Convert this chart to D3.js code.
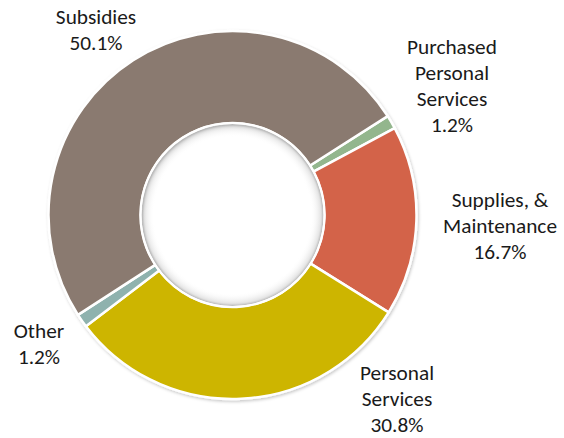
<!DOCTYPE html>
<html>
<head>
<meta charset="utf-8">
<script src="https://cdn.jsdelivr.net/npm/d3@7"></script>
<style>
  body { margin: 0; background: #fff; }
  svg text { font-family: Carlito, Lato, "Open Sans", sans-serif; font-size: 21.3px; fill: #1a1a1a; }
</style>
</head>
<body>
<svg width="564" height="438"></svg>
<script>
// slices, clockwise from the small green one at upper right
var categories = ["Purchased Personal Services", "Supplies, & Maintenance", "Personal Services", "Other", "Subsidies"];
var values = [1.2, 16.7, 30.8, 1.2, 50.1];
var colors = ["#93b68d", "#d3644a", "#cdb500", "#8fb2ae", "#8a7a6f"];
var labelLines = [
  ["Purchased", "Personal", "Services", "1.2%"],
  ["Supplies, &", "Maintenance", "16.7%"],
  ["Personal", "Services", "30.8%"],
  ["Other", "1.2%"],
  ["Subsidies", "50.1%"]
];
// label anchor (centre x, first baseline)
var labelPos = [[452, 54], [500, 207], [397, 380], [39, 338], [96, 24]];

var cx = 232.5, cy = 215, outerR = 184, innerR = 92;
var startDeg = 57.5;

var svg = d3.select("svg");

var defs = svg.append("defs");
var shadow = defs.append("filter").attr("id", "shadow")
  .attr("x", "-10%").attr("y", "-10%").attr("width", "120%").attr("height", "120%");
shadow.append("feDropShadow").attr("dx", 1).attr("dy", 1.5).attr("stdDeviation", 1.5)
  .attr("flood-color", "#000").attr("flood-opacity", 0.22);

var hole = defs.append("radialGradient").attr("id", "hole");
hole.append("stop").attr("offset", "0.86").attr("stop-color", "#fff").attr("stop-opacity", 0);
hole.append("stop").attr("offset", "0.97").attr("stop-color", "#c4c4c4").attr("stop-opacity", 0.45);
hole.append("stop").attr("offset", "1").attr("stop-color", "#999").attr("stop-opacity", 0.7);

var pie = d3.pie().sort(null).value(function(d) { return d; })
  .startAngle(startDeg * Math.PI / 180)
  .endAngle(startDeg * Math.PI / 180 + 2 * Math.PI);

var arc = d3.arc().innerRadius(innerR).outerRadius(outerR);

var g = svg.append("g").attr("transform", "translate(" + cx + "," + cy + ")");

g.append("g").attr("filter", "url(#shadow)")
  .selectAll("path")
  .data(pie(values))
  .enter().append("path")
  .attr("d", arc)
  .style("fill", function(d, i) { return colors[i]; })
  .style("stroke", "#fff")
  .style("stroke-width", 2.5)
  .style("stroke-linejoin", "round");

// inner shadow of the hole
g.append("circle").attr("r", innerR - 1).style("fill", "url(#hole)");
g.append("circle").attr("r", innerR).style("fill", "none").style("stroke", "#fff").style("stroke-width", 2);

var labels = svg.selectAll(".lbl")
  .data(labelLines)
  .enter().append("text")
  .attr("class", "lbl")
  .attr("text-anchor", "middle")
  .attr("x", function(d, i) { return labelPos[i][0]; })
  .attr("y", function(d, i) { return labelPos[i][1]; });

labels.each(function(d, i) {
  var t = d3.select(this);
  d.forEach(function(line, j) {
    t.append("tspan")
      .attr("x", labelPos[i][0])
      .attr("dy", j === 0 ? 0 : 26)
      .text(line);
  });
});
</script>
</body>
</html>
